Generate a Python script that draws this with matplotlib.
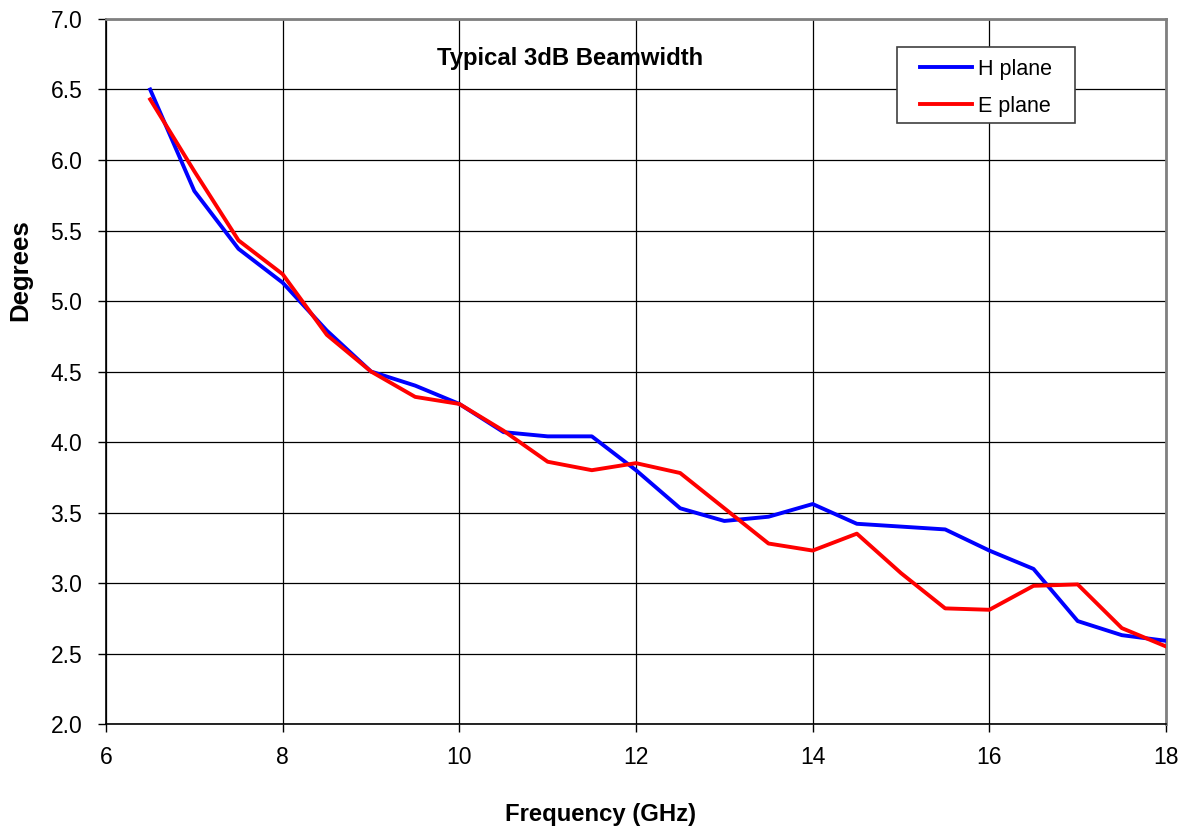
import matplotlib
matplotlib.use("Agg")
from matplotlib import pyplot as plt
from matplotlib.patches import Rectangle

# frequency points (GHz)
freq = [6.5, 7, 7.5, 8, 8.5, 9, 9.5, 10, 10.5, 11, 11.5, 12,
        12.5, 13, 13.5, 14, 14.5, 15, 15.5, 16, 16.5, 17, 17.5, 18]

# 3dB beamwidth (degrees)
h_plane = [6.50, 5.78, 5.37, 5.13, 4.79, 4.50, 4.40, 4.27, 4.07, 4.04, 4.04, 3.80,
           3.53, 3.44, 3.47, 3.56, 3.42, 3.40, 3.38, 3.23, 3.10, 2.73, 2.63, 2.59]
e_plane = [6.43, 5.92, 5.43, 5.19, 4.76, 4.50, 4.32, 4.27, 4.08, 3.86, 3.80, 3.85,
           3.78, 3.53, 3.28, 3.23, 3.35, 3.07, 2.82, 2.81, 2.98, 2.99, 2.68, 2.55]

x_ticks = [6, 8, 10, 12, 14, 16, 18]
y_ticks = [2.0, 2.5, 3.0, 3.5, 4.0, 4.5, 5.0, 5.5, 6.0, 6.5, 7.0]

plt.rcParams['font.family'] = ['Liberation Sans', 'DejaVu Sans']

W, H = 1187, 830
fig = plt.figure(figsize=(W / 100, H / 100), dpi=100)
left, right, top, bottom = 106, 1166, 19, 724
ax = fig.add_axes([left / W, 1 - bottom / H, (right - left) / W, (bottom - top) / H])


def px(x, y):
    # pixel position -> axes fraction
    return (x - left) / (right - left), 1 - (y - top) / (bottom - top)


ax.plot(freq, h_plane, color="#0000ff", lw=2.8, label="H plane", zorder=3)
ax.plot(freq, e_plane, color="#ff0000", lw=2.8, label="E plane", zorder=3)

ax.set_xlim(6, 18)
ax.set_ylim(2.0, 7.0)
ax.set_xticks(x_ticks)
ax.set_yticks(y_ticks)
ax.set_yticklabels([f"{v:.1f}" for v in y_ticks])
ax.tick_params(direction="out", length=6, width=1, labelsize=16.5, color="black")
ax.tick_params(axis="y", pad=11)
ax.tick_params(axis="x", pad=10)
ax.grid(True, color="black", lw=0.9)
ax.set_axisbelow(True)

for s in ["top", "right"]:
    ax.spines[s].set_color("#808080")
    ax.spines[s].set_linewidth(2)
for s in ["left", "bottom"]:
    ax.spines[s].set_color("black")
    ax.spines[s].set_linewidth(1.2)

tx, ty = px(570, 59)
ax.text(tx, ty, "Typical 3dB Beamwidth", transform=ax.transAxes,
        ha="center", va="center", fontsize=17.2, fontweight="bold")

# legend box
bx0, by0 = px(897, 123)
bx1, by1 = px(1075, 47)
ax.add_patch(Rectangle((bx0, by0), bx1 - bx0, by1 - by0, transform=ax.transAxes,
                       facecolor="white", edgecolor="#404040", lw=1.2, zorder=4))
lx, ly = px(920, 88)
leg = ax.legend(loc="center left", bbox_to_anchor=(lx, ly), fontsize=15.5,
                frameon=False, borderpad=0, borderaxespad=0,
                handlelength=2.42, handletextpad=0.28, labelspacing=0.74)
leg.set_zorder(5)

fig.text(601 / W, 1 - 814 / H, "Frequency (GHz)", ha="center", va="center",
         fontsize=17.2, fontweight="bold")
fig.text(20 / W, 1 - 270 / H, "Degrees", ha="center", va="center", rotation=90,
         fontsize=18.5, fontweight="bold")

fig.savefig("out.png", dpi=100)
